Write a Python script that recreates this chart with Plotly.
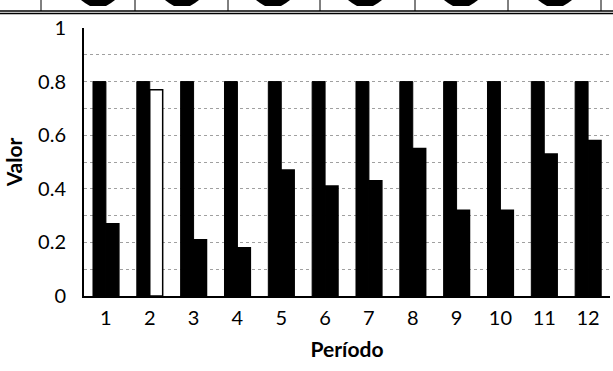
import plotly.graph_objects as go

# ---- data ----
periods = [1, 2, 3, 4, 5, 6, 7, 8, 9, 10, 11, 12]
series_a = [0.8, 0.8, 0.8, 0.8, 0.8, 0.8, 0.8, 0.8, 0.8, 0.8, 0.8, 0.8]
series_b = [0.27, 0.77, 0.21, 0.18, 0.47, 0.41, 0.43, 0.55, 0.32, 0.32, 0.53, 0.58]
series_b_colors = ["black", "white", "black", "black", "black", "black",
                   "black", "black", "black", "black", "black", "black"]
y_tick_vals = [0, 0.2, 0.4, 0.6, 0.8, 1]
y_tick_text = ["0", "0.2", "0.4", "0.6", "0.8", "1"]

W, H = 613, 371
ML, MR, MT, MB = 84, 3, 28, 75
PW, PH = W - ML - MR, H - MT - MB

def px(x):
    return (x - ML) / PW

def py(y):
    return (H - MB - y) / PH

fig = go.Figure()
fig.add_trace(go.Bar(x=periods, y=series_a, marker=dict(color="black", line=dict(color="black", width=1)),
                     showlegend=False))
fig.add_trace(go.Bar(x=periods, y=series_b, marker=dict(color=series_b_colors, line=dict(color="black", width=1.5)),
                     showlegend=False))

# decorative remnant of scanned strip at the top
shapes = []
for yy in (11, 13.5):
    shapes.append(dict(type="line", xref="paper", yref="paper", x0=px(0), x1=px(W), y0=py(yy), y1=py(yy),
                       line=dict(color="black", width=1.5)))
for sx in (41, 135, 228, 320, 415, 508, 601):
    shapes.append(dict(type="line", xref="paper", yref="paper", x0=px(sx), x1=px(sx), y0=py(0), y1=py(11),
                       line=dict(color="black", width=1)))
for cx in (98, 182, 273, 365, 461, 555):
    path = "M {a},{t} L {b},{t} L {c},{m} L {d},{bt} L {e},{bt} L {f},{m} Z".format(
        a=px(cx - 17), b=px(cx + 17), c=px(cx + 13), d=px(cx + 8), e=px(cx - 8), f=px(cx - 13),
        t=py(0), m=py(3), bt=py(6))
    shapes.append(dict(type="path", xref="paper", yref="paper", path=path,
                       fillcolor="black", line=dict(color="black", width=0)))

fig.update_layout(
    width=W, height=H,
    margin=dict(l=ML, r=MR, t=MT, b=MB),
    paper_bgcolor="white", plot_bgcolor="white",
    barmode="group", bargap=0.41, bargroupgap=0,
    font=dict(family="Lato, 'DejaVu Sans', sans-serif", color="black", size=20),
    shapes=shapes,
    xaxis=dict(
        range=[0.5, 12.5], tickmode="array", tickvals=periods, ticktext=[str(p) for p in periods],
        showgrid=False, showline=True, linecolor="black", linewidth=2,
        ticks="", ticklabelstandoff=3, tickfont=dict(size=20),
        title=dict(text="<b>Período</b>", font=dict(size=21), standoff=14),
    ),
    yaxis=dict(
        range=[0, 1], tickmode="array", tickvals=y_tick_vals, ticktext=y_tick_text,
        showgrid=True, gridcolor="#a0a0a0", griddash="dot", gridwidth=1,
        minor=dict(dtick=0.1, showgrid=True, gridcolor="#a0a0a0", griddash="dot", gridwidth=1),
        showline=True, linecolor="black", linewidth=2, zeroline=False,
        ticks="", ticklabelstandoff=12, tickfont=dict(size=20),
        title=dict(text="<b>Valor</b>", font=dict(size=21), standoff=10),
    ),
)

fig.write_html("out.html")
